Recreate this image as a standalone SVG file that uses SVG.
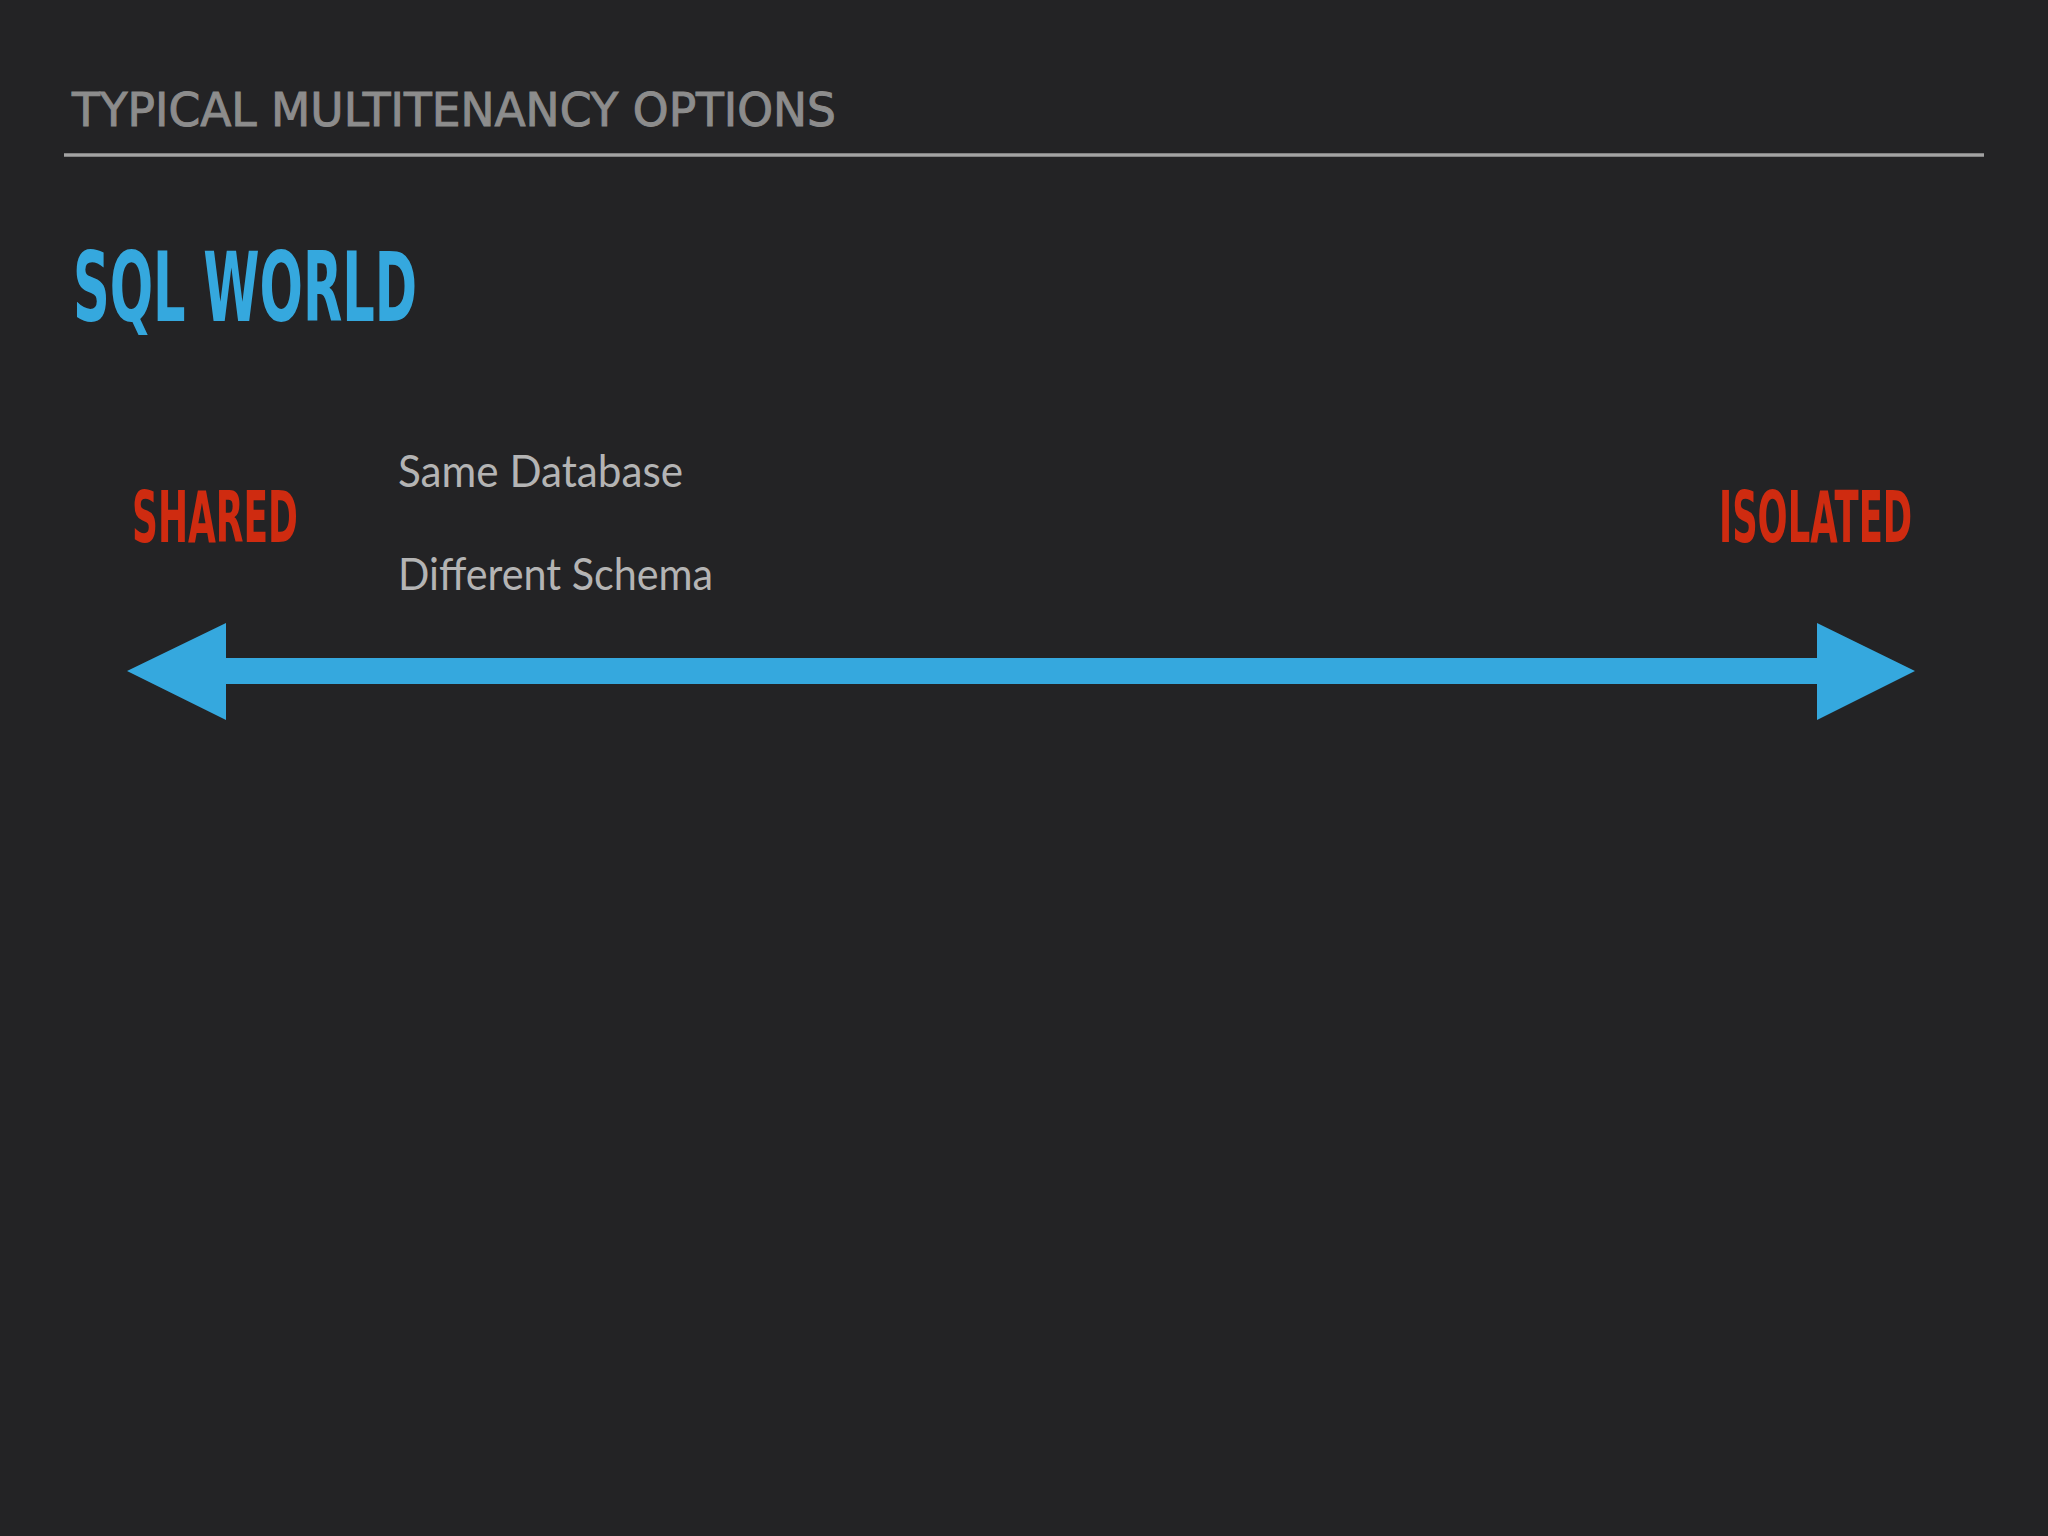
<svg xmlns="http://www.w3.org/2000/svg" width="2048" height="1536" viewBox="0 0 2048 1536">
<style>
.cond{font-family:"DejaVu Sans Condensed","DejaVu Sans",sans-serif;font-stretch:condensed;font-weight:bold}
.red{fill:#cf2b10;font-size:71px}
.body{font-family:Lato,"Noto Sans",sans-serif;fill:#b4b4b4;font-size:45px}
</style>
<rect x="0" y="0" width="2048" height="1536" fill="#232325"/>
<g id="header">
<text x="72" y="126" font-family="'DejaVu Sans',sans-serif" font-size="46" fill="#8c8c8c" stroke="#8c8c8c" stroke-width="1" textLength="764" lengthAdjust="spacingAndGlyphs">TYPICAL MULTITENANCY OPTIONS</text>
<line x1="64" y1="155" x2="1984" y2="155" stroke="#a3a3a3" stroke-width="3.5"/>
</g>
<g id="title">
<text class="cond" x="73" y="321" font-size="96" fill="#35a8de" textLength="344" lengthAdjust="spacingAndGlyphs">SQL WORLD</text>
</g>
<g id="shared">
<text class="cond red" x="132" y="542" textLength="166" lengthAdjust="spacingAndGlyphs">SHARED</text>
</g>
<g id="isolated" transform="translate(1719,542) scale(0.6,1)">
<text class="cond red" x="0" y="0" textLength="322" lengthAdjust="spacingAndGlyphs">ISOLATED</text>
</g>
<g id="option">
<text class="body" x="398" y="487" textLength="285" lengthAdjust="spacingAndGlyphs">Same Database</text>
<text class="body" x="398" y="590" textLength="315" lengthAdjust="spacingAndGlyphs">Different Schema</text>
</g>
<g id="connectors">
<polygon points="127,671 226,623 226,658 1817,658 1817,623 1915,671 1817,720 1817,684 226,684 226,720" fill="#35a8de"/>
</g>
</svg>
